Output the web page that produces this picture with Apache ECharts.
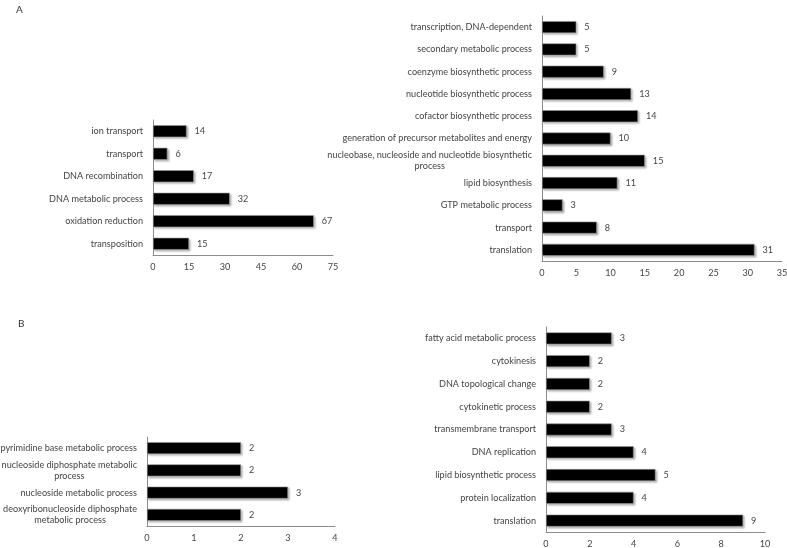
<!DOCTYPE html>
<html><head><meta charset="utf-8">
<script src="https://cdn.jsdelivr.net/npm/echarts@6/dist/echarts.min.js"></script>
<style>html,body{margin:0;padding:0;background:#fff}#c{width:787px;height:548px}</style>
</head><body><div id="c"></div>
<script>
// Panel A left
const catsA1 = ['ion transport','transport','DNA recombination','DNA metabolic process','oxidation reduction','transposition'];
const valsA1 = [14,6,17,32,67,15];
// Panel A right
const catsA2 = ['transcription, DNA-dependent','secondary metabolic process','coenzyme biosynthetic process','nucleotide biosynthetic process','cofactor biosynthetic process','generation of precursor metabolites and energy','nucleobase, nucleoside and nucleotide biosynthetic\nprocess','lipid biosynthesis','GTP metabolic process','transport','translation'];
const valsA2 = [5,5,9,13,14,10,15,11,3,8,31];
// Panel B left
const catsB1 = ['pyrimidine base metabolic process','nucleoside diphosphate metabolic\nprocess','nucleoside metabolic process','deoxyribonucleoside diphosphate\nmetabolic process'];
const valsB1 = [2,2,3,2];
// Panel B right
const catsB2 = ['fatty acid metabolic process','cytokinesis','DNA topological change','cytokinetic process','transmembrane transport','DNA replication','lipid biosynthetic process','protein localization','translation'];
const valsB2 = [3,2,2,2,3,4,5,4,9];
// Axis settings
const xMax = [75,35,4,10];
const xInt = [15,5,1,2];

const FONT = 'Lato, "Open Sans", sans-serif';
const FS = 9.1;
const grids = [
  {left:153, right:454, top:120, height:135, outerBoundsMode:'none', containLabel:false},
  {left:542, right:5, top:16, height:245, outerBoundsMode:'none', containLabel:false},
  {left:147, right:452, top:437, height:89, outerBoundsMode:'none', containLabel:false},
  {left:546, right:22, top:327, height:205, outerBoundsMode:'none', containLabel:false}
];
const cats = [catsA1, catsA2, catsB1, catsB2];
const vals = [valsA1, valsA2, valsB1, valsB2];

const chart = echarts.init(document.getElementById('c'));
chart.setOption({
  animation:false,
  backgroundColor:'#fff',
  title:[
    {text:'A', left:11, top:0, textStyle:{fontFamily:FONT, fontSize:10, fontWeight:'normal', color:'#333'}},
    {text:'B', left:13, top:314, textStyle:{fontFamily:FONT, fontSize:10, fontWeight:'normal', color:'#333'}}
  ],
  grid: grids,
  xAxis: grids.map((g,i)=>({
    type:'value', gridIndex:i, min:0, max:xMax[i], interval:xInt[i],
    axisLine:{show:true, lineStyle:{color:'#8c8c8c', width:1}},
    axisTick:{show:false}, splitLine:{show:false},
    axisLabel:{fontFamily:FONT, fontSize:FS, color:'#444', margin:8}
  })),
  yAxis: grids.map((g,i)=>({
    type:'category', gridIndex:i, data:cats[i], inverse:true,
    axisLine:{show:true, lineStyle:{color:'#8c8c8c', width:1}},
    axisTick:{show:false},
    axisLabel:{fontFamily:FONT, fontSize:FS, color:'#444', margin:10, lineHeight:11,
      formatter:(v)=>v.split('\n').map(s=>'{c|'+s+'}').join('\n'),
      rich:{c:{align:'center', fontFamily:FONT, fontSize:FS, color:'#444', lineHeight:11}}}
  })),
  series: grids.map((g,i)=>({
    type:'bar', xAxisIndex:i, yAxisIndex:i, data:vals[i], barWidth:12,
    itemStyle:{color:'#000', borderColor:'#9a9a9a', borderWidth:0.6,
      shadowColor:'rgba(0,0,0,0.3)', shadowBlur:2, shadowOffsetX:1.5, shadowOffsetY:1.5},
    label:{show:true, position:'right', distance:8, fontFamily:FONT, fontSize:FS, color:'#444'}
  }))
});
</script></body></html>
